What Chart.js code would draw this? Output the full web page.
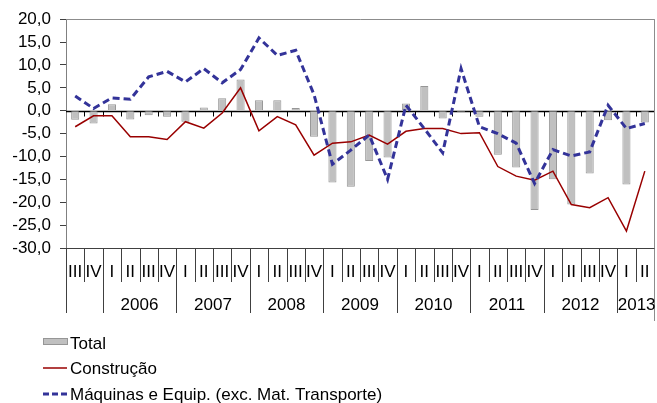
<!DOCTYPE html>
<html>
<head>
<meta charset="utf-8">
<script src="https://cdn.jsdelivr.net/npm/chart.js@4/dist/chart.umd.min.js"></script>
<style>
  html, body { margin: 0; padding: 0; background: #fff; }
  #wrap { width: 657px; height: 403px; }
</style>
</head>
<body>
<div id="wrap"><canvas id="chart" width="657" height="403"></canvas></div>
<script>
// Quarterly series, 2005 III .. 2013 II
const quarters = ['III', 'IV',
    'I', 'II', 'III', 'IV', 'I', 'II', 'III', 'IV', 'I', 'II', 'III', 'IV',
    'I', 'II', 'III', 'IV', 'I', 'II', 'III', 'IV', 'I', 'II', 'III', 'IV',
    'I', 'II', 'III', 'IV', 'I', 'II'];
const years = ['', '2006', '2007', '2008', '2009', '2010', '2011', '2012', '2013'];

const total = [-2.0, -2.8, 1.4, -1.9, -1.0, -1.3, -2.4, 0.7, 2.7, 6.8, 2.3, 2.3, 0.6, -5.7,
    -15.7, -16.6, -11.0, -10.2, 1.6, 5.4, -1.7, -0.3, -1.3, -9.6, -12.4, -21.7, -15.0, -20.5,
    -13.7, -2.1, -16.1, -2.6];
const construcao = [-3.5, -1.1, -1.1, -5.7, -5.7, -6.3, -2.4, -3.8, -0.5, 5.0, -4.4, -1.3, -3.1, -9.7,
    -7.1, -6.8, -5.3, -7.3, -4.5, -3.9, -3.9, -5.0, -4.8, -12.2, -14.3, -15.2, -13.2, -20.5,
    -21.2, -19.0, -26.3, -13.2];
const maquinas = [3.2, 0.5, 2.8, 2.5, 7.4, 8.6, 6.3, 9.2, 6.1, 9.0, 15.9, 12.1, 13.2, 3.5,
    -11.7, -8.6, -5.3, -15.0, 1.2, -3.9, -9.2, 9.2, -3.5, -5.0, -7.1, -15.9, -8.5, -9.9,
    -9.0, 1.2, -3.9, -2.8];

const FONT = "'Liberation Sans', Arial, sans-serif";
const BAR_FILL = '#c0c0c0';
const BAR_BORDER = '#969696';
const RED = '#990000';
const BLUE = '#333399';

// zero axis drawn under the lines
const zeroAxis = {
    id: 'zeroAxis',
    beforeDatasetsDraw(chart) {
        const ctx = chart.ctx, area = chart.chartArea;
        const y0 = Math.round(chart.scales.y.getPixelForValue(0)) + 0.5;
        const step = (area.right - area.left) / quarters.length;
        ctx.save();
        ctx.strokeStyle = '#000';
        ctx.lineWidth = 1;
        ctx.beginPath();
        for (let i = 1; i < quarters.length; i++) {
            const x = Math.round(area.left + step * i) + 0.5;
            ctx.moveTo(x, y0);
            ctx.lineTo(x, y0 + 5);
        }
        ctx.stroke();
        ctx.lineWidth = 1.5;
        ctx.beginPath();
        ctx.moveTo(area.left, y0);
        ctx.lineTo(area.right, y0);
        ctx.stroke();
        ctx.restore();
    }
};

// two-level category table + frame + legend
const tableAndLegend = {
    id: 'tableAndLegend',
    afterDraw(chart) {
        const ctx = chart.ctx, area = chart.chartArea;
        const n = quarters.length;
        const step = (area.right - area.left) / n;
        const edge = i => Math.round(area.left + step * i) + 0.5;
        const bottom = Math.round(area.bottom) + 0.5;
        const qBottom = 282, yBottom = 313;

        ctx.save();
        // frame top / right
        ctx.strokeStyle = '#8c8c8c';
        ctx.lineWidth = 1;
        ctx.beginPath();
        ctx.moveTo(area.left, Math.round(area.top) + 0.5);
        ctx.lineTo(edge(n), Math.round(area.top) + 0.5);
        ctx.moveTo(edge(n), area.top);
        ctx.lineTo(edge(n), yBottom + 8);
        ctx.stroke();

        // table lines
        ctx.strokeStyle = '#404040';
        ctx.beginPath();
        ctx.moveTo(area.left, bottom);
        ctx.lineTo(edge(n), bottom);
        ctx.moveTo(edge(0), area.bottom);
        ctx.lineTo(edge(0), yBottom);
        for (let i = 1; i < n; i++) {
            ctx.moveTo(edge(i), bottom);
            ctx.lineTo(edge(i), quarters[i] === 'I' ? yBottom : qBottom);
        }
        ctx.stroke();

        ctx.fillStyle = '#000';
        ctx.font = '17px ' + FONT;
        ctx.textAlign = 'center';
        ctx.textBaseline = 'alphabetic';
        quarters.forEach((q, i) => {
            ctx.fillText(q, area.left + step * (i + 0.5), 276.5);
        });

        // year groups start at each quarter I
        let g = 0, start = 0;
        for (let i = 1; i <= n; i++) {
            if (i === n || quarters[i] === 'I') {
                const mid = area.left + step * (start + i) / 2;
                if (years[g]) ctx.fillText(years[g], mid + (i - start < 4 ? 1 : 0), 310);
                g++;
                start = i;
            }
        }

        // legend
        ctx.textAlign = 'left';
        ctx.fillStyle = BAR_FILL;
        ctx.fillRect(44, 339, 23, 5);
        ctx.strokeStyle = BAR_BORDER;
        ctx.strokeRect(43.5, 338.5, 24, 6);
        ctx.fillStyle = '#000';
        ctx.fillText('Total', 70, 349);

        ctx.strokeStyle = RED;
        ctx.lineWidth = 1.5;
        ctx.beginPath();
        ctx.moveTo(43, 368);
        ctx.lineTo(67, 368);
        ctx.stroke();
        ctx.fillText('Construção', 70, 374);

        ctx.strokeStyle = BLUE;
        ctx.lineWidth = 3;
        ctx.setLineDash([6, 3]);
        ctx.beginPath();
        ctx.moveTo(43, 394);
        ctx.lineTo(67, 394);
        ctx.stroke();
        ctx.setLineDash([]);
        ctx.fillText('Máquinas e Equip. (exc. Mat. Transporte)', 70, 400);
        ctx.restore();
    }
};

new Chart(document.getElementById('chart'), {
    type: 'bar',
    data: {
        labels: quarters,
        datasets: [
            {
                label: 'Total',
                data: total,
                backgroundColor: BAR_FILL,
                borderColor: BAR_BORDER,
                borderWidth: 1,
                barPercentage: 0.44,
                categoryPercentage: 1,
                order: 3
            },
            {
                type: 'line',
                label: 'Construção',
                data: construcao,
                borderColor: RED,
                borderWidth: 1.5,
                pointRadius: 0,
                tension: 0,
                fill: false,
                order: 2
            },
            {
                type: 'line',
                label: 'Máquinas e Equip. (exc. Mat. Transporte)',
                data: maquinas,
                borderColor: BLUE,
                borderWidth: 3,
                borderDash: [7, 4],
                pointRadius: 0,
                tension: 0,
                fill: false,
                order: 1
            }
        ]
    },
    options: {
        responsive: false,
        animation: false,
        layout: { padding: { top: 19, right: 3, bottom: 155, left: 0 } },
        plugins: {
            legend: { display: false },
            tooltip: { enabled: false }
        },
        scales: {
            x: { display: false },
            y: {
                min: -30,
                max: 20,
                afterFit(scale) { scale.width = 66; },
                ticks: {
                    stepSize: 5,
                    autoSkip: false,
                    color: '#000',
                    padding: 9,
                    font: { family: FONT, size: 17 },
                    callback: v => v.toFixed(1).replace('.', ',')
                },
                grid: { drawOnChartArea: false, tickLength: 6, color: '#404040' },
                border: { color: '#808080' }
            }
        }
    },
    plugins: [zeroAxis, tableAndLegend]
});
</script>
</body>
</html>
